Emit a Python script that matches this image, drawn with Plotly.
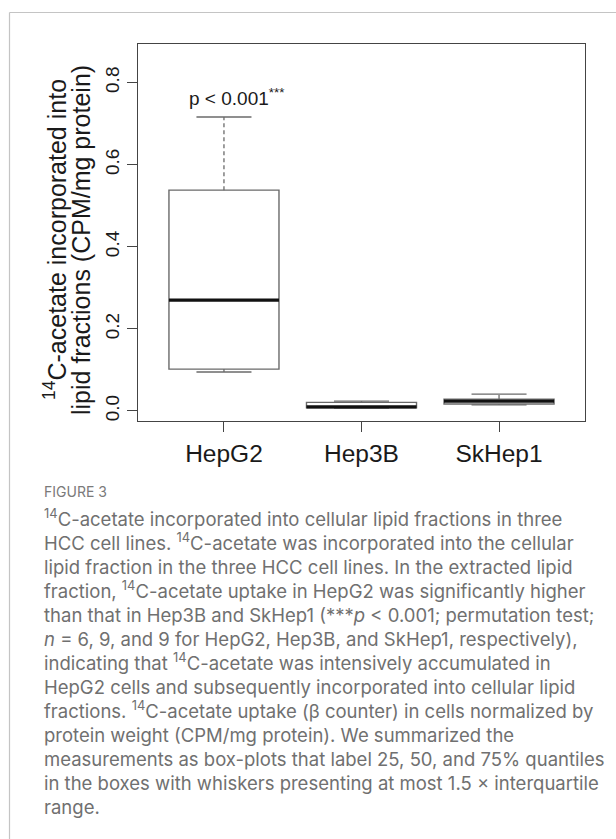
import plotly.graph_objects as go

# ---- data ----
categories = ["HepG2", "Hep3B", "SkHep1"]
positions = [1, 2, 3]
lower_whisker = [0.095, 0.007, 0.015]
q1_vals = [0.102, 0.008, 0.017]
median_vals = [0.270, 0.010, 0.024]
q3_vals = [0.538, 0.021, 0.029]
upper_whisker = [0.716, 0.024, 0.041]
y_ticks = [0.0, 0.2, 0.4, 0.6, 0.8]
y_tick_labels = ["0.0", "0.2", "0.4", "0.6", "0.8"]
p_label = "p &lt; 0.001<sup>***</sup>"
y_title_lines = ["<sup>14</sup>C-acetate incorporated into",
                 "lipid fractions (CPM/mg protein)"]
figure_label = "FIGURE 3"
caption_lines = [
    "<sup>14</sup>C-acetate incorporated into cellular lipid fractions in three",
    "HCC cell lines. <sup>14</sup>C-acetate was incorporated into the cellular",
    "lipid fraction in the three HCC cell lines. In the extracted lipid",
    "fraction, <sup>14</sup>C-acetate uptake in HepG2 was significantly higher",
    "than that in Hep3B and SkHep1 (***<i>p</i> &lt; 0.001; permutation test;",
    "<i>n</i> = 6, 9, and 9 for HepG2, Hep3B, and SkHep1, respectively),",
    "indicating that <sup>14</sup>C-acetate was intensively accumulated in",
    "HepG2 cells and subsequently incorporated into cellular lipid",
    "fractions. <sup>14</sup>C-acetate uptake (β counter) in cells normalized by",
    "protein weight (CPM/mg protein). We summarized the",
    "measurements as box-plots that label 25, 50, and 75% quantiles",
    "in the boxes with whiskers presenting at most 1.5 × interquartile",
    "range.",
]

W, H = 616, 839
PL, PR, PT, PB = 138, 585, 44, 421  # plot area in pixels


def px(x):
    return (x - PL) / (PR - PL)


def py(y):
    return (PB - y) / (PB - PT)


AX = "Liberation Sans, Arial, sans-serif"
CAP_FONT = "Inter, Lato, sans-serif"
BOX_COL = "#6a6a6a"
BOX_W = 0.8
CAP_W = 0.4
CAP_SIZE = 18.5
LINE_H = 1.3 * CAP_SIZE  # plotly's multi-line spacing

fig = go.Figure()

# boxes (no whiskers from the box trace itself)
fig.add_trace(go.Box(
    x=positions, q1=q1_vals, median=median_vals, q3=q3_vals,
    lowerfence=q1_vals, upperfence=q3_vals,
    width=BOX_W, whiskerwidth=0, fillcolor="white",
    line=dict(color=BOX_COL, width=1.4), boxpoints=False,
    hoverinfo="skip", showlegend=False,
))

# dashed whiskers
wx, wy = [], []
for p, lo, a, b, hi in zip(positions, lower_whisker, q1_vals, q3_vals, upper_whisker):
    wx += [p, p, None, p, p, None]
    wy += [b, hi, None, a, lo, None]
fig.add_trace(go.Scatter(x=wx, y=wy, mode="lines",
                         line=dict(color=BOX_COL, width=1.3, dash="4px,3px"),
                         hoverinfo="skip", showlegend=False))

# whisker caps
cx, cy = [], []
for p, lo, hi in zip(positions, lower_whisker, upper_whisker):
    cx += [p - CAP_W / 2, p + CAP_W / 2, None, p - CAP_W / 2, p + CAP_W / 2, None]
    cy += [hi, hi, None, lo, lo, None]
fig.add_trace(go.Scatter(x=cx, y=cy, mode="lines",
                         line=dict(color=BOX_COL, width=1.4),
                         hoverinfo="skip", showlegend=False))

# thick medians
mx, my = [], []
for p, m in zip(positions, median_vals):
    mx += [p - BOX_W / 2, p + BOX_W / 2, None]
    my += [m, m, None]
fig.add_trace(go.Scatter(x=mx, y=my, mode="lines",
                         line=dict(color="#111111", width=3.2),
                         hoverinfo="skip", showlegend=False))

annotations = []
# p-value label
annotations.append(dict(xref="paper", yref="paper", x=px(236.5), y=py(97),
                        text=p_label, showarrow=False, xanchor="center", yanchor="middle",
                        font=dict(family=AX, size=19, color="#1a1a1a")))
# y title (two lines, rotated)
for xc, t in zip([55, 81], y_title_lines):
    annotations.append(dict(xref="paper", yref="paper", x=px(xc), y=py(240),
                            text=t, showarrow=False, textangle=-90,
                            xanchor="center", yanchor="middle",
                            font=dict(family=AX, size=25, color="#1a1a1a")))
# figure label
annotations.append(dict(xref="paper", yref="paper", x=px(42), y=py(491),
                        text=figure_label, showarrow=False, xanchor="left", yanchor="middle",
                        font=dict(family=CAP_FONT, size=14, color="#7a7a7a")))
# caption as one multi-line block
first_center = 517
mid_center = first_center + LINE_H * (len(caption_lines) - 1) / 2
annotations.append(dict(xref="paper", yref="paper", x=px(42), y=py(mid_center),
                        text="<br>".join(caption_lines), showarrow=False,
                        xanchor="left", yanchor="middle", align="left",
                        font=dict(family=CAP_FONT, size=CAP_SIZE, color="#707070")))

shapes = [
    # outer figure border (top and left)
    dict(type="line", xref="paper", yref="paper", x0=px(9.5), x1=px(W + 5),
         y0=py(12.5), y1=py(12.5), line=dict(color="#c4c4c4", width=1.2)),
    dict(type="line", xref="paper", yref="paper", x0=px(9.5), x1=px(9.5),
         y0=py(12.5), y1=py(H + 5), line=dict(color="#c4c4c4", width=1.2)),
]

fig.update_layout(
    width=W, height=H,
    margin=dict(l=PL, r=W - PR, t=PT, b=H - PB, pad=0),
    paper_bgcolor="white", plot_bgcolor="white",
    showlegend=False,
    annotations=annotations,
    shapes=shapes,
    xaxis=dict(range=[0.375, 3.625], tickvals=positions, ticktext=categories,
               ticks="outside", ticklen=10, tickwidth=1.2, tickcolor="#444",
               showline=True, linecolor="#444", linewidth=1.3, mirror=True,
               showgrid=False, zeroline=False,
               tickfont=dict(family=AX, size=24.5, color="#1a1a1a")),
    yaxis=dict(range=[-0.0244, 0.894], tickvals=y_ticks, ticktext=y_tick_labels,
               ticks="outside", ticklen=10, tickwidth=1.2, tickcolor="#444",
               tickangle=-90,
               showline=True, linecolor="#444", linewidth=1.3, mirror=True,
               showgrid=False, zeroline=False,
               tickfont=dict(family=AX, size=19, color="#1a1a1a")),
)

fig.write_html("out.html")
